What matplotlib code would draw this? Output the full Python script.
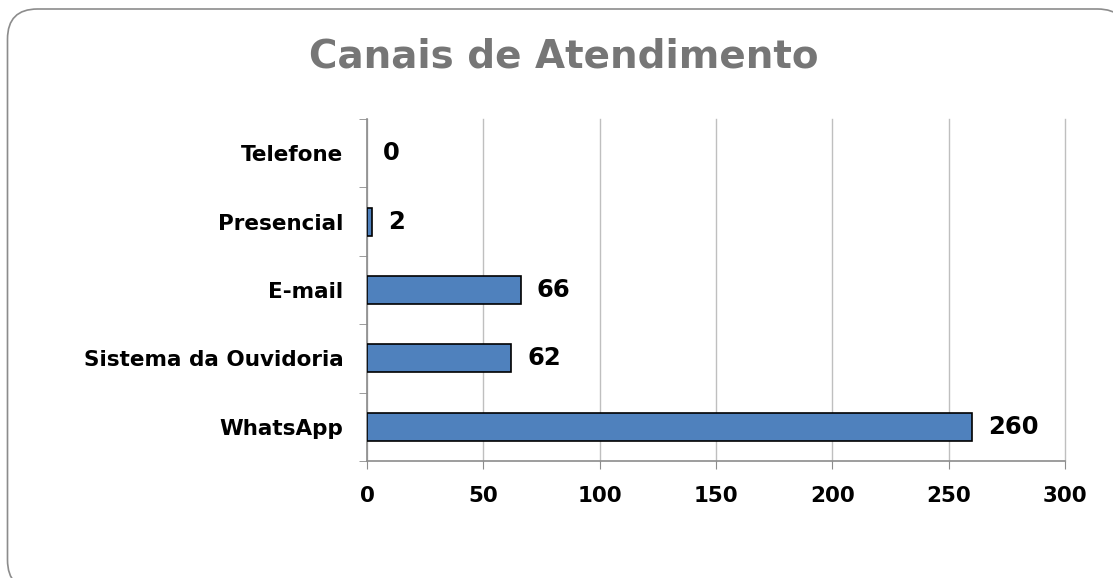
import matplotlib.pyplot as plt
from matplotlib.patches import FancyBboxPatch

categories = ["WhatsApp", "Sistema da Ouvidoria", "E-mail", "Presencial", "Telefone"]
values = [260, 62, 66, 2, 0]
xticks = [0, 50, 100, 150, 200, 250, 300]

W, H = 1113, 578
fig = plt.figure(figsize=(W / 100, H / 100), dpi=100)
plt.rcParams["font.family"] = ["DejaVu Sans"]

# rounded frame around the whole chart (partly cut off at right/bottom), in inches
frame = FancyBboxPatch((0.075, -0.12), 11.2, 5.81,
                       boxstyle="round,pad=0,rounding_size=0.3",
                       transform=fig.dpi_scale_trans, facecolor="white",
                       edgecolor="#8c8c8c", linewidth=1.2, zorder=-5)
fig.patches.append(frame)

ax = fig.add_axes([367 / W, 1 - 461 / H, (1065 - 367) / W, (461 - 119) / H])
ax.set_facecolor("none")
ax.set_zorder(2)

y = range(len(categories))
ax.barh(y, values, height=0.41, color="#4F81BD", edgecolor="black",
        linewidth=[1.2 if v > 0 else 0 for v in values], zorder=3)
for i, v in enumerate(values):
    ax.text(v + 7, i, str(v), va="center", ha="left", fontsize=17.5, fontweight="bold", zorder=4)

ax.set_xlim(0, 300)
ax.set_ylim(-0.5, len(categories) - 0.5)
ax.set_xticks(xticks)
ax.set_xticklabels([str(t) for t in xticks], fontsize=15.4, fontweight="bold")
ax.set_yticks(list(y))
ax.set_yticklabels(categories, fontsize=15.5, fontweight="bold")
ax.tick_params(axis="y", length=0, pad=17)
ax.set_yticks([i - 0.5 for i in range(len(categories) + 1)], minor=True)
ax.tick_params(axis="y", which="minor", length=6, color="#8c8c8c")
ax.tick_params(axis="x", length=6, color="#8c8c8c", pad=12)
ax.grid(axis="x", color="#bfbfbf", linewidth=1, zorder=0)
for line in ax.get_xgridlines():
    line.set_clip_on(False)
for s in ["top", "right"]:
    ax.spines[s].set_visible(False)
for s in ["left", "bottom"]:
    ax.spines[s].set_color("#8c8c8c")
    ax.spines[s].set_linewidth(1.2)

fig.text(564 / W, 1 - 57 / H, "Canais de Atendimento", ha="center", va="center",
         fontsize=28, fontweight="bold", color="#767676")

fig.savefig("out.png", dpi=100)
